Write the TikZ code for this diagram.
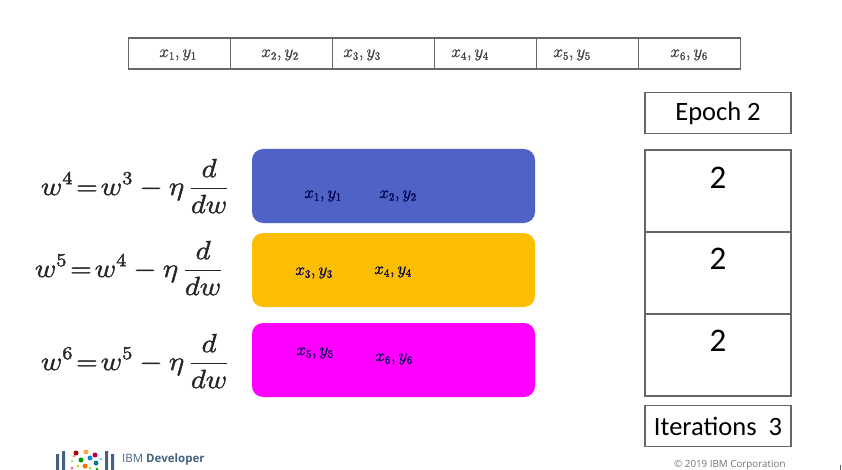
\documentclass[tikz,border=0pt]{standalone}
\usepackage{fontspec}
\setmainfont{Carlito}
\newfontfamily\plexish{Open Sans}
\definecolor{bluebar}{HTML}{4F63C6}
\definecolor{amberbar}{HTML}{FCBE00}
\definecolor{magentabar}{HTML}{FF00FF}
\definecolor{edge}{HTML}{666666}
\definecolor{ibmblue}{HTML}{44617F}
\newcommand{\heavytext}[2]{\special{pdf:code 2 Tr #1 w}#2\special{pdf:code 0 Tr 1 w}}
\newcommand{\eqnbody}[2]{\scalebox{1.42}[1.27]{\heavytext{0.32}{$\displaystyle w^{#1}\!=\!w^{#2}-\eta\,\frac{d}{dw}$}}}
\newcommand{\pairtext}[2]{\heavytext{0.2}{$x_{#1},y_{#2}$}}
\tikzset{
  cell/.style={draw=edge,line width=1.1pt,minimum height=31pt,minimum width=102pt,inner sep=0pt},
  celltext/.style={inner sep=0pt,font=\fontsize{16}{18}\selectfont,text=black!75},
  bar/.style={rounded corners=11pt,minimum width=283pt,minimum height=74pt,inner sep=0pt},
  rbox/.style={draw=edge,line width=1.1pt,inner sep=0pt,minimum width=146pt},
  eqn/.style={inner sep=0pt,font=\fontsize{22}{26}\selectfont,text=black!85},
  pair/.style={inner sep=0pt,font=\fontsize{16}{18}\selectfont,text=black!70!blue},
  big/.style={inner sep=0pt,font=\fontsize{33}{36}\selectfont},
  lab/.style={inner sep=0pt,font=\fontsize{26.5}{30}\selectfont},
  logodot/.style={circle,inner sep=0pt,minimum size=5pt}
}
\begin{document}
\begin{tikzpicture}[x=1pt,y=-1pt]
\useasboundingbox (0,0) rectangle (842,470);
\clip (0,0) rectangle (842,470);
% top strip
\node[cell] (c1) at (179.3,53.5) {};
\node[cell] (c2) at (281.3,53.5) {};
\node[cell] (c3) at (383.3,53.5) {};
\node[cell] (c4) at (485.3,53.5) {};
\node[cell] (c5) at (587.3,53.5) {};
\node[cell] (c6) at (689.3,53.5) {};
\node[celltext] (t1) at (178,55) {\pairtext{1}{1}};
\node[celltext] (t2) at (280,55) {\pairtext{2}{2}};
\node[celltext] (t3) at (362,55) {\pairtext{3}{3}};
\node[celltext] (t4) at (470,55) {\pairtext{4}{4}};
\node[celltext] (t5) at (572,55) {\pairtext{5}{5}};
\node[celltext] (t6) at (689,55) {\pairtext{6}{6}};
% bars
\node[bar,fill=bluebar] (b1) at (393.5,186) {};
\node[bar,fill=amberbar] (b2) at (393.5,270) {};
\node[bar,fill=magentabar] (b3) at (393.5,360) {};
\node[pair] (p1) at (323,196) {\pairtext{1}{1}};
\node[pair] (p2) at (398,196) {\pairtext{2}{2}};
\node[pair] (p3) at (314,273) {\pairtext{3}{3}};
\node[pair] (p4) at (393,272) {\pairtext{4}{4}};
\node[pair] (p5) at (315,353) {\pairtext{5}{5}};
\node[pair] (p6) at (394,359) {\pairtext{6}{6}};
% equations
\node[eqn] (e1) at (135,186) {\eqnbody{4}{3}};
\node[eqn] (e2) at (129,268) {\eqnbody{5}{4}};
\node[eqn] (e3) at (135,361) {\eqnbody{6}{5}};
% right column
\node[rbox,minimum height=41pt] (ep) at (718,113) {};
\node[lab] (eplab) at (718,113) {Epoch 2};
\node[rbox,minimum height=82pt] (r1) at (718,191) {};
\node[rbox,minimum height=82pt] (r2) at (718,273) {};
\node[rbox,minimum height=82pt] (r3) at (718,355) {};
\node[big] (n1) at (718,178) {2};
\node[big] (n2) at (718,259) {2};
\node[big] (n3) at (718,341) {2};
\node[rbox,minimum height=41pt] (it) at (718,426) {};
\node[lab] (itlab) at (718,426) {Iterations\ \ 3};
% logo
\fill[ibmblue] (56,454) rectangle (59,470) (62,451) rectangle (65,470);
\fill[ibmblue] (105,451) rectangle (108,470) (111,454) rectangle (114,470);
\node[logodot,fill=red!70!black] (d1) at (76,453) {};
\node[logodot,fill=orange!70] (d2) at (86,452) {};
\node[logodot,fill=purple] (d3) at (95,455) {};
\node[logodot,fill=green!60!black] (d4) at (81,460) {};
\node[logodot,fill=cyan!70!blue] (d5) at (90,458) {};
\node[logodot,fill=orange!90!red] (d6) at (85,466) {};
\node[logodot,fill=teal] (d7) at (96,463) {};
\node[logodot,fill=green!50,minimum size=3pt] (d8) at (72,461) {};
\node[logodot,fill=red!60,minimum size=3pt] (d9) at (72,468) {};
\node[logodot,fill=green!70!black,minimum size=3pt] (d10) at (97,469) {};
\node[logodot,fill=red!50,minimum size=3pt] (d11) at (74,456) {};
\node[logodot,fill=yellow!70!green,minimum size=3pt] (d12) at (78,466) {};
\node[logodot,fill=green!50!yellow,minimum size=3pt] (d13) at (90,468) {};
\node[logodot,fill=cyan!60,minimum size=3pt] (d14) at (101,459) {};
\node[inner sep=0pt,anchor=west,text=ibmblue,font=\plexish\fontsize{11.5}{13}\selectfont] (ibm) at (122,459.5) {IBM \textbf{Developer}};
\node[inner sep=0pt,anchor=west,text=black!55,font=\plexish\fontsize{9.8}{11}\selectfont] (corp) at (674,465.5) {© 2019 IBM Corporation};
\fill[black!60] (840,465) rectangle (841,470);
\end{tikzpicture}
\end{document}
